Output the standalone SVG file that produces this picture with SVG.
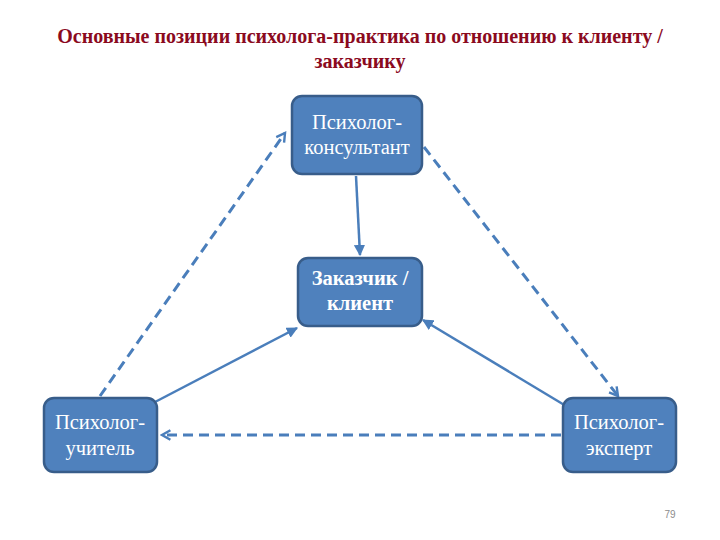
<svg xmlns="http://www.w3.org/2000/svg" width="720" height="540" viewBox="0 0 720 540">
<style>
.title{font-family:"Liberation Serif","Times New Roman",serif;font-size:20px;font-weight:bold;fill:#8B0A1E;text-anchor:middle}
.box{fill:#4F81BD;stroke:#385D8A;stroke-width:2.5}
.lbl{font-family:"Liberation Serif","Times New Roman",serif;font-size:20.5px;fill:#FFFFFF;text-anchor:middle}
.b{font-weight:bold}
.solid{stroke:#4A7EBB;stroke-width:2.5;fill:none}
.dash{stroke:#4A7EBB;stroke-width:3;fill:none;stroke-dasharray:10,6}
.pn{font-family:"Liberation Sans",Arial,sans-serif;font-size:10px;fill:#8C8C8C;text-anchor:middle}
</style>
<defs>
<marker id="fa" viewBox="0 0 10 10" refX="9" refY="5" markerWidth="4.5" markerHeight="4.5" orient="auto" markerUnits="strokeWidth">
<path d="M0,0 L10,5 L0,10 z" fill="#4A7EBB"/>
</marker>
<marker id="oa" viewBox="0 0 10 10" refX="8" refY="5" markerWidth="4" markerHeight="4" orient="auto" markerUnits="strokeWidth">
<path d="M1,1 L8,5 L1,9" fill="none" stroke="#4A7EBB" stroke-width="2"/>
</marker>
</defs>
<rect width="720" height="540" fill="#FFFFFF"/>
<g id="title">
<text class="title" x="360" y="43">Основные позиции психолога-практика по отношению к клиенту /</text>
<text class="title" x="360" y="68">заказчику</text>
</g>
<g id="connectors">
<line class="solid" x1="356" y1="176" x2="360" y2="255" marker-end="url(#fa)"/>
<line class="solid" x1="155" y1="402" x2="297" y2="328" marker-end="url(#fa)"/>
<line class="solid" x1="566" y1="406" x2="423" y2="320" marker-end="url(#fa)"/>
<line class="dash" x1="100" y1="396" x2="285" y2="133" marker-end="url(#oa)"/>
<line class="dash" x1="424" y1="147" x2="618" y2="396" marker-end="url(#oa)"/>
<line class="dash" x1="561" y1="435" x2="162" y2="435" marker-end="url(#oa)"/>
</g>
<g id="node-consultant">
<rect class="box" x="292" y="96" width="130" height="78" rx="10"/>
<text class="lbl" x="357" y="129">Психолог-</text>
<text class="lbl" x="357" y="154">консультант</text>
</g>
<g id="node-client">
<rect class="box" x="298" y="258" width="124" height="68" rx="10"/>
<text class="lbl b" x="360" y="285">Заказчик /</text>
<text class="lbl b" x="360" y="310">клиент</text>
</g>
<g id="node-teacher">
<rect class="box" x="44" y="398" width="113" height="74" rx="10"/>
<text class="lbl" x="100" y="429">Психолог-</text>
<text class="lbl" x="100" y="455">учитель</text>
</g>
<g id="node-expert">
<rect class="box" x="563" y="398" width="113" height="74" rx="10"/>
<text class="lbl" x="619" y="429">Психолог-</text>
<text class="lbl" x="619" y="455">эксперт</text>
</g>
<text class="pn" x="670" y="518">79</text>
</svg>
